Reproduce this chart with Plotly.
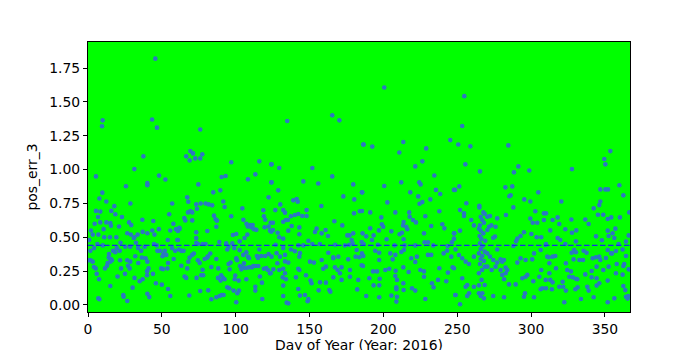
import plotly.graph_objects as go

# (day of year, pos_err_3) samples, grouped by period
days_000_060 = [(45.6,1.82),(9.9,1.364),(9.5,1.32),(43.4,1.37),(46.7,1.31),(37.5,1.098),(31.4,1.004),(5.4,0.95),(48.1,0.956),(52.4,0.927),(40.2,0.90),(40.2,0.885),(25.7,0.877),(9.7,0.83),(7.7,0.787),(12.4,0.765),(57.0,0.75),(28.7,0.75),(17.8,0.73),(5.4,0.695),(8.3,0.69),(15.8,0.695),(18.5,0.67),(55.0,0.67),(23.0,0.65),(6.8,0.65),(44.2,0.62),(36.8,0.63),(27.8,0.61),(12.4,0.61),(15.1,0.605),(8.3,0.61),(4.5,0.60),(57.8,0.60),(15.5,0.585),(21.0,0.58),(29.3,0.59),(48.0,0.56),(10.6,0.56),(55.7,0.55),(59.6,0.56),(61.9,0.57),(37.0,0.54),(40.2,0.53),(43.5,0.55),(45.0,0.52),(26.6,0.53),(29.0,0.52),(33.6,0.52),(31.4,0.50),(3.2,0.52),(7.0,0.52),(11.0,0.50),(19.2,0.50),(14.9,0.50),(54.0,0.48),(32.5,0.46),(31.0,0.495),(1.6,0.40),(4.1,0.42),(6.3,0.45),(17.0,0.40),(19.5,0.42),(21.5,0.40),(18.5,0.39),(14.2,0.377),(14.0,0.35),(15.5,0.34),(25.3,0.43),(28.6,0.43),(33.9,0.42),(36.0,0.40),(38.4,0.43),(44.7,0.45),(47.0,0.40),(46.5,0.44),(48.7,0.40),(52.0,0.40),(51.2,0.38),(50.5,0.36),(53.0,0.37),(56.9,0.42),(59.0,0.40),(1.8,0.33),(3.2,0.32),(5.2,0.27),(5.9,0.23),(7.5,0.19),(13.3,0.31),(12.9,0.29),(15.1,0.32),(16.2,0.33),(21.7,0.33),(22.4,0.27),(26.6,0.33),(27.1,0.29),(28.6,0.32),(28.2,0.27),(34.0,0.31),(36.5,0.35),(39.0,0.345),(40.2,0.32),(40.0,0.25),(40.0,0.22),(44.0,0.23),(41.0,0.27),(49.6,0.27),(50.8,0.265),(53.8,0.27),(54.2,0.31),(30.2,0.128),(23.9,0.073),(24.1,0.061),(26.6,0.029),(41.5,0.058),(40.2,0.083),(55.7,0.066),(7.0,0.05),(7.7,0.042),(15.1,0.14),(54.2,0.118),(0.5,0.33),(0.8,0.48),(2.0,0.55),(10.0,0.44),(20.0,0.21),(25.0,0.23),(31.5,0.20),(35.0,0.175),(37.0,0.19),(46.0,0.16),(50.0,0.15),(58.0,0.34),(60.5,0.48),(22.0,0.46),(11.5,0.27),(32.0,0.36),(4.0,0.28)]

days_060_124 = [(76.0,1.297),(69.3,1.137),(71.1,1.12),(66.5,1.098),(68.8,1.068),(72.6,1.083),(76.0,1.083),(77.4,1.113),(97.0,1.054),(116.0,1.061),(124.1,1.039),(90.5,0.945),(93.2,0.953),(108.3,0.928),(113.3,0.965),(74.7,0.891),(84.8,0.832),(89.6,0.847),(122.3,0.795),(124.1,0.906),(67.2,0.795),(67.9,0.763),(91.6,0.765),(92.5,0.724),(73.3,0.743),(76.3,0.75),(79.6,0.75),(81.7,0.743),(84.1,0.736),(67.7,0.684),(69.3,0.694),(70.6,0.684),(73.8,0.711),(65.2,0.642),(65.9,0.625),(70.6,0.625),(85.3,0.66),(86.4,0.633),(87.3,0.623),(86.9,0.578),(104.5,0.714),(97.0,0.655),(105.2,0.63),(107.3,0.6),(108.2,0.58),(110.5,0.575),(112.3,0.56),(114.0,0.555),(109.8,0.59),(111.5,0.59),(118.7,0.70),(119.1,0.655),(120.0,0.63),(119.6,0.574),(122.3,0.58),(123.7,0.608),(124.1,0.541),(62.0,0.561),(60.9,0.546),(73.3,0.537),(80.8,0.546),(98.1,0.517),(100.4,0.524),(107.9,0.52),(106.0,0.495),(102.7,0.47),(73.3,0.495),(73.3,0.46),(88.9,0.465),(93.6,0.455),(97.7,0.455),(60.9,0.48),(79.6,0.45),(74.4,0.45),(77.6,0.45),(61.6,0.41),(63.2,0.40),(64.7,0.40),(71.7,0.38),(68.8,0.35),(70.6,0.37),(79.0,0.34),(81.2,0.36),(82.8,0.38),(80.8,0.35),(74.4,0.33),(75.6,0.31),(77.6,0.26),(76.7,0.22),(78.0,0.22),(67.9,0.32),(67.2,0.27),(63.2,0.29),(65.4,0.21),(66.5,0.20),(73.5,0.20),(86.9,0.34),(83.5,0.28),(88.2,0.27),(90.2,0.22),(95.2,0.43),(94.3,0.41),(99.0,0.42),(100.4,0.345),(100.9,0.33),(102.7,0.405),(105.1,0.37),(107.2,0.39),(108.3,0.357),(109.0,0.345),(95.2,0.302),(96.6,0.313),(95.9,0.263),(102.9,0.288),(104.9,0.276),(103.8,0.263),(105.6,0.307),(107.0,0.273),(109.0,0.278),(111.0,0.278),(111.9,0.288),(114.4,0.362),(116.0,0.41),(115.1,0.347),(113.3,0.288),(115.3,0.288),(117.3,0.362),(120.0,0.362),(122.3,0.376),(119.1,0.268),(120.7,0.273),(121.8,0.258),(123.7,0.234),(88.0,0.20),(91.4,0.20),(89.8,0.18),(92.5,0.19),(94.3,0.13),(99.7,0.217),(99.3,0.19),(102.0,0.18),(107.2,0.19),(116.4,0.21),(117.8,0.165),(113.3,0.135),(113.3,0.106),(102.2,0.106),(98.6,0.106),(95.7,0.123),(101.1,0.086),(100.4,0.02),(68.6,0.07),(76.0,0.103),(81.4,0.108),(83.5,0.042),(86.9,0.057),(89.1,0.066),(90.5,0.074),(91.8,0.074),(118.0,0.044)]

days_124_186 = [(165.4,1.401),(170.2,1.364),(134.9,1.359),(186.4,1.186),(124.3,1.039),(129.5,1.012),(151.9,1.012),(124.3,0.906),(128.8,0.847),(145.8,0.913),(155.9,0.898),(165.4,0.95),(179.6,0.891),(172.9,0.802),(180.3,0.78),(185.7,0.832),(139.0,0.773),(141.3,0.783),(142.0,0.763),(130.2,0.743),(148.0,0.701),(158.0,0.731),(126.8,0.701),(132.2,0.701),(133.4,0.682),(180.1,0.677),(184.1,0.692),(137.4,0.655),(140.1,0.665),(142.4,0.672),(145.1,0.657),(148.0,0.657),(135.4,0.628),(132.2,0.615),(134.0,0.628),(166.8,0.618),(172.2,0.588),(125.2,0.608),(125.2,0.554),(128.4,0.534),(123.2,0.549),(135.6,0.549),(137.9,0.583),(143.1,0.573),(143.1,0.522),(153.7,0.539),(154.8,0.564),(158.2,0.529),(160.9,0.554),(162.5,0.51),(175.6,0.514),(179.6,0.529),(177.1,0.514),(185.9,0.529),(129.5,0.50),(132.2,0.49),(149.2,0.475),(151.9,0.45),(178.5,0.48),(179.2,0.455),(185.3,0.465),(127.0,0.445),(142.4,0.44),(145.8,0.44),(157.0,0.45),(167.4,0.445),(174.0,0.44),(176.9,0.445),(132.2,0.42),(137.4,0.41),(140.1,0.397),(143.5,0.383),(143.1,0.357),(130.0,0.357),(133.4,0.37),(127.7,0.383),(124.3,0.357),(162.7,0.386),(166.1,0.345),(169.5,0.357),(176.2,0.337),(181.9,0.406),(183.7,0.352),(186.4,0.362),(181.2,0.357),(128.2,0.308),(133.4,0.322),(132.2,0.268),(135.6,0.313),(129.5,0.258),(125.5,0.263),(123.2,0.234),(150.3,0.32),(153.0,0.313),(158.2,0.332),(159.3,0.268),(161.1,0.283),(166.1,0.352),(167.2,0.278),(169.0,0.258),(171.7,0.278),(170.6,0.234),(177.4,0.258),(177.4,0.209),(183.0,0.185),(185.3,0.293),(142.4,0.268),(143.1,0.258),(133.4,0.234),(131.8,0.204),(134.0,0.19),(140.8,0.204),(147.6,0.219),(150.7,0.18),(151.4,0.16),(157.1,0.167),(161.1,0.165),(166.1,0.204),(171.7,0.185),(132.2,0.143),(142.4,0.118),(143.5,0.069),(146.9,0.074),(132.2,0.066),(134.5,0.017),(135.6,0.012),(148.7,0.027),(149.2,0.044),(156.2,0.108),(163.4,0.11),(164.1,0.098),(182.3,0.115)]

days_186_248 = [(200.6,1.607),(186.6,1.186),(192.5,1.17),(213.5,1.204),(210.8,1.127),(229.0,1.157),(245.3,1.218),(221.6,1.024),(226.4,1.061),(234.5,0.957),(224.3,0.906),(225.2,0.891),(185.5,0.832),(200.6,0.879),(212.1,0.906),(235.6,0.85),(238.5,0.82),(247.8,0.85),(218.2,0.832),(223.6,0.802),(224.5,0.748),(226.4,0.76),(231.8,0.78),(202.7,0.758),(191.1,0.684),(208.1,0.684),(217.5,0.684),(217.8,0.652),(237.9,0.692),(228.4,0.655),(198.6,0.647),(220.0,0.628),(222.1,0.61),(199.0,0.596),(199.9,0.578),(213.7,0.613),(213.3,0.588),(215.5,0.578),(216.2,0.559),(232.4,0.583),(239.9,0.596),(241.3,0.566),(205.4,0.544),(212.6,0.534),(211.0,0.522),(191.1,0.566),(197.0,0.551),(227.5,0.529),(248.0,0.529),(185.5,0.694),(188.4,0.507),(193.4,0.514),(202.2,0.485),(192.3,0.48),(213.7,0.485),(227.9,0.463),(230.2,0.463),(246.4,0.463),(247.8,0.487),(186.6,0.45),(196.3,0.445),(207.6,0.44),(214.4,0.44),(221.6,0.44),(233.8,0.44),(243.5,0.435),(212.1,0.391),(194.5,0.401),(197.2,0.386),(204.7,0.381),(206.3,0.337),(213.9,0.406),(208.1,0.37),(218.9,0.345),(222.7,0.357),(230.2,0.37),(232.4,0.37),(240.8,0.381),(243.1,0.401),(246.0,0.357),(185.5,0.381),(197.2,0.332),(186.2,0.288),(193.0,0.248),(195.7,0.248),(201.3,0.258),(204.0,0.268),(208.3,0.253),(208.1,0.214),(213.5,0.278),(217.1,0.244),(221.6,0.317),(225.0,0.258),(227.5,0.248),(227.5,0.209),(237.9,0.271),(246.9,0.278),(243.7,0.239),(190.5,0.197),(193.4,0.145),(197.5,0.194),(197.2,0.145),(209.2,0.185),(208.8,0.13),(208.8,0.116),(213.5,0.16),(213.7,0.111),(219.4,0.123),(221.6,0.106),(232.9,0.16),(234.0,0.13),(237.0,0.185),(242.6,0.175),(248.7,0.074),(188.4,0.066),(197.2,0.057),(205.4,0.069),(209.2,0.061),(208.8,0.025),(228.4,0.044)]

days_248_310 = [(254.8,1.543),(253.4,1.322),(250.7,1.186),(258.9,1.172),(284.6,1.179),(255.5,1.039),(265.4,0.987),(291.4,1.024),(288.4,0.98),(298.8,0.994),(248.5,0.85),(251.4,0.876),(282.6,0.869),(287.3,0.876),(286.2,0.81),(285.3,0.803),(288.0,0.721),(295.4,0.78),(299.5,0.765),(304.9,0.832),(256.2,0.751),(265.0,0.733),(265.0,0.721),(267.7,0.684),(268.6,0.674),(265.9,0.652),(267.0,0.628),(268.1,0.608),(265.4,0.588),(264.7,0.564),(265.9,0.549),(267.7,0.529),(265.2,0.51),(266.3,0.49),(269.0,0.475),(265.4,0.455),(267.2,0.436),(265.9,0.413),(268.6,0.394),(264.7,0.381),(267.0,0.362),(265.9,0.34),(268.1,0.325),(265.4,0.303),(266.8,0.258),(268.6,0.283),(264.7,0.234),(266.5,0.185),(264.7,0.145),(268.6,0.148),(264.7,0.086),(268.1,0.049),(265.9,0.066),(251.9,0.701),(254.6,0.677),(254.6,0.657),(259.5,0.628),(261.3,0.588),(251.9,0.549),(247.8,0.529),(247.8,0.49),(270.4,0.652),(272.2,0.657),(271.5,0.578),(273.1,0.588),(276.0,0.578),(277.1,0.64),(275.6,0.505),(270.4,0.554),(274.4,0.497),(283.0,0.665),(299.5,0.638),(302.9,0.692),(304.2,0.608),(301.1,0.608),(308.7,0.677),(308.7,0.628),(306.9,0.50),(303.8,0.50),(295.2,0.537),(292.9,0.51),(289.8,0.47),(290.7,0.49),(288.0,0.436),(300.2,0.524),(248.9,0.41),(251.2,0.369),(253.4,0.345),(255.7,0.32),(258.0,0.303),(261.3,0.357),(270.4,0.381),(272.2,0.357),(274.4,0.332),(277.1,0.41),(279.4,0.337),(280.5,0.32),(281.7,0.332),(283.9,0.258),(282.8,0.234),(290.7,0.313),(292.9,0.345),(296.3,0.332),(300.8,0.337),(306.5,0.406),(309.9,0.443),(311.0,0.357),(302.0,0.381),(247.8,0.271),(253.4,0.197),(256.8,0.148),(255.7,0.135),(258.0,0.086),(261.3,0.135),(270.4,0.283),(273.3,0.258),(276.0,0.283),(277.1,0.313),(279.4,0.258),(280.5,0.222),(281.7,0.19),(282.8,0.276),(285.1,0.152),(289.6,0.152),(294.1,0.197),(296.3,0.209),(297.5,0.222),(301.5,0.175),(305.6,0.209),(306.9,0.258),(309.9,0.185),(306.5,0.116),(307.6,0.123),(248.9,0.074),(251.9,0.005),(256.8,0.066),(267.0,0.086),(274.4,0.066),(281.7,0.057),(295.2,0.061),(302.0,0.057),(295.9,0.086)]

days_310_366 = [(353.7,1.137),(349.6,1.078),(350.3,1.039),(327.7,1.004),(346.9,0.854),(350.3,0.854),(352.1,0.854),(359.8,0.884),(362.5,0.81),(320.5,0.765),(346.9,0.765),(346.2,0.738),(342.4,0.714),(345.3,0.667),(348.9,0.667),(351.9,0.635),(354.3,0.647),(360.2,0.647),(366.5,0.684),(318.0,0.647),(314.6,0.628),(319.1,0.598),(327.3,0.632),(336.7,0.632),(339.0,0.598),(310.1,0.677),(313.0,0.551),(323.2,0.559),(327.7,0.534),(330.6,0.551),(318.0,0.495),(319.8,0.48),(330.4,0.47),(344.0,0.507),(348.0,0.478),(351.9,0.549),(352.5,0.51),(355.2,0.529),(357.1,0.564),(356.4,0.495),(359.3,0.45),(366.1,0.514),(364.3,0.468),(310.1,0.45),(323.2,0.45),(329.1,0.406),(330.4,0.389),(327.5,0.386),(335.6,0.401),(337.6,0.386),(351.9,0.406),(354.3,0.381),(357.5,0.399),(362.0,0.41),(311.9,0.352),(314.6,0.357),(316.4,0.362),(312.4,0.308),(323.6,0.308),(328.8,0.337),(332.7,0.332),(335.2,0.332),(341.7,0.345),(344.0,0.352),(346.9,0.332),(346.2,0.357),(350.7,0.347),(358.0,0.303),(363.1,0.303),(364.3,0.362),(362.5,0.288),(316.9,0.271),(324.5,0.258),(327.0,0.248),(325.9,0.209),(328.2,0.204),(330.4,0.194),(331.3,0.19),(336.7,0.226),(341.0,0.251),(344.4,0.283),(348.9,0.258),(352.5,0.283),(354.8,0.381),(357.5,0.234),(366.1,0.263),(312.4,0.234),(313.0,0.185),(314.6,0.167),(319.1,0.135),(321.4,0.172),(321.8,0.135),(323.6,0.106),(330.0,0.116),(331.5,0.13),(338.1,0.135),(339.0,0.106),(341.0,0.204),(344.4,0.197),(344.4,0.143),(346.2,0.16),(351.9,0.18),(362.0,0.224),(362.5,0.14),(363.8,0.11),(364.3,0.061),(365.4,0.047),(365.8,0.066),(310.1,0.123),(314.1,0.116),(333.8,0.044),(342.4,0.057),(351.9,0.02),(356.4,0.049),(322.5,0.02)]

mean_err = 0.44
x_ticks = [0, 50, 100, 150, 200, 250, 300, 350]
y_ticks = [0.0, 0.25, 0.5, 0.75, 1.0, 1.25, 1.5, 1.75]
x_label = "Day of Year (Year: 2016)"
y_label = "pos_err_3"

samples = days_000_060 + days_060_124 + days_124_186 + days_186_248 + days_248_310 + days_310_366
day_of_year = [d for d, _ in samples]
pos_err_3 = [v for _, v in samples]

font = dict(family="DejaVu Sans", size=13.9, color="black")

fig = go.Figure()
fig.add_trace(go.Scatter(
    x=day_of_year, y=pos_err_3, mode="markers",
    marker=dict(size=4.6, color="#2b78c2", line=dict(width=0)),
    showlegend=False, hoverinfo="skip"))

fig.add_shape(type="line", xref="paper", x0=0, x1=1, yref="y", y0=mean_err, y1=mean_err,
              line=dict(color="#1530e8", width=1.4, dash="5.5px,2.5px"), layer="above")

# x-axis label placed just below the tick labels, near the bottom edge as in the original
fig.add_annotation(text=x_label, xref="paper", yref="paper", x=0.5, y=0,
                   xanchor="center", yanchor="top", yshift=-23, showarrow=False, font=font)

axis_common = dict(showgrid=False, zeroline=False, showline=True, linecolor="black", linewidth=1,
                   mirror=True, ticks="outside", ticklen=4, tickcolor="black", tickwidth=1,
                   tickfont=font, automargin=False)

fig.update_layout(
    width=700, height=350,
    margin=dict(l=88, r=70, t=42, b=38),
    paper_bgcolor="white", plot_bgcolor="#00ff00",
    font=font,
    xaxis=dict(range=[0, 367], tickvals=x_ticks, ticktext=[str(t) for t in x_ticks], **axis_common),
    yaxis=dict(range=[-0.052, 1.943], tickvals=y_ticks, ticktext=[f"{t:.2f}" for t in y_ticks],
               title=dict(text=y_label, font=font, standoff=8), **axis_common),
)

fig.write_html("out.html")
